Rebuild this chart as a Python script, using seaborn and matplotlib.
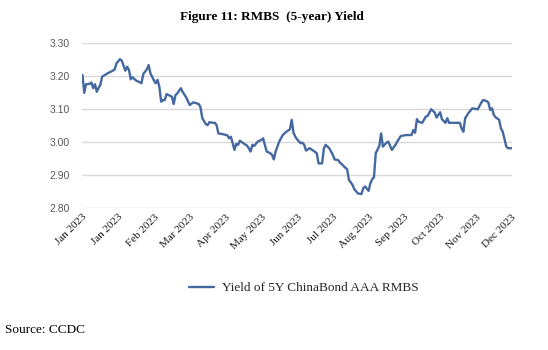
import matplotlib
matplotlib.use("Agg")
import matplotlib.pyplot as plt
from matplotlib.lines import Line2D
import pandas as pd
import seaborn as sns

# Trading-day index within 2023 and the 5Y RMBS yield (%) on that day
day = [0, 1, 2, 4, 5, 6, 7, 8, 9, 10, 11, 14, 17, 18, 19, 21, 22, 24, 25, 26,
       27, 28, 30, 32, 33, 34, 36, 37, 38, 40, 41, 42, 43, 44, 45, 46, 47, 49,
       50, 51, 52, 53, 55, 56, 58, 60, 62, 65, 66, 67, 69, 70, 71, 73, 74, 75,
       76, 79, 81, 82, 83, 85, 86, 87, 88, 90, 92, 93, 94, 95, 96, 98, 100,
       101, 103, 105, 106, 107, 108, 110, 112, 114, 116, 117, 118, 119, 120,
       122, 123, 124, 125, 127, 129, 131, 132, 134, 135, 136, 138, 140, 141,
       143, 144, 145, 146, 148, 149, 151, 152, 154, 156, 157, 158, 160, 161,
       162, 163, 164, 166, 167, 168, 170, 171, 173, 175, 176, 178, 181, 184,
       185, 186, 187, 188, 190, 192, 193, 195, 197, 198, 200, 201, 203, 204,
       205, 208, 211, 212, 213, 214, 216, 218, 221, 223, 224, 226, 227, 228,
       229, 230, 231, 233, 234, 235, 237, 238, 240]
yield_5y = [3.204, 3.150, 3.176, 3.177, 3.181, 3.164, 3.176, 3.153, 3.165,
            3.174, 3.199, 3.209, 3.217, 3.221, 3.239, 3.252, 3.247, 3.217,
            3.229, 3.219, 3.191, 3.197, 3.187, 3.182, 3.179, 3.207, 3.221,
            3.234, 3.209, 3.187, 3.179, 3.189, 3.168, 3.123, 3.128, 3.128,
            3.146, 3.141, 3.138, 3.116, 3.143, 3.148, 3.164, 3.153, 3.136,
            3.113, 3.121, 3.116, 3.106, 3.073, 3.055, 3.052, 3.061, 3.059,
            3.059, 3.052, 3.027, 3.024, 3.021, 3.012, 3.017, 2.977, 2.995,
            2.992, 3.005, 2.997, 2.990, 2.982, 2.972, 2.992, 2.989, 3.002,
            3.007, 3.012, 2.972, 2.967, 2.962, 2.948, 2.972, 3.002, 3.022,
            3.032, 3.039, 3.068, 3.029, 3.017, 3.009, 2.997, 2.999, 2.992,
            2.975, 2.982, 2.975, 2.967, 2.936, 2.936, 2.982, 2.992, 2.982,
            2.962, 2.948, 2.946, 2.938, 2.934, 2.928, 2.918, 2.886, 2.871,
            2.858, 2.845, 2.843, 2.861, 2.866, 2.853, 2.876, 2.888, 2.894,
            2.967, 2.989, 3.027, 2.987, 2.999, 3.002, 2.977, 2.992, 3.002,
            3.019, 3.022, 3.022, 3.037, 3.029, 3.070, 3.062, 3.059, 3.078,
            3.080, 3.100, 3.090, 3.075, 3.091, 3.070, 3.059, 3.073, 3.059,
            3.059, 3.059, 3.042, 3.032, 3.073, 3.090, 3.103, 3.100, 3.120,
            3.128, 3.125, 3.120, 3.098, 3.103, 3.083, 3.076, 3.068, 3.042,
            3.032, 2.987, 2.982, 2.982]

tick_days = [0, 20, 40, 60, 80, 100, 120, 140, 160, 180, 200, 220, 240]
tick_labels = ["Jan 2023", "Jan 2023", "Feb 2023", "Mar 2023", "Apr 2023",
               "May 2023", "Jun 2023", "Jul 2023", "Aug 2023", "Sep 2023",
               "Oct 2023", "Nov 2023", "Dec 2023"]
y_ticks = [2.80, 2.90, 3.00, 3.10, 3.20, 3.30]

series_name = "Yield of 5Y ChinaBond AAA RMBS"
title = "Figure 11: RMBS  (5-year) Yield"
source = "Source: CCDC"

line_color = "#44689f"
grid_color = "#d9d9d9"

sns.set_style("white")
serif = ["Liberation Serif", "DejaVu Serif"]
sans = ["Liberation Sans", "DejaVu Sans"]

df = pd.DataFrame({"day": day, "yield": yield_5y})

fig = plt.figure(figsize=(5.48, 3.50), dpi=100)
ax = fig.add_axes([0.1505, 0.4049, 0.7832, 0.4714])

sns.lineplot(data=df, x="day", y="yield", ax=ax, color=line_color,
             linewidth=1.7, legend=False)

ax.set_xlim(tick_days[0], tick_days[-1])
ax.set_ylim(y_ticks[0], y_ticks[-1])
ax.set_yticks(y_ticks)
ax.set_yticklabels([f"{v:.2f}" for v in y_ticks], family=sans,
                   fontsize=7.5, color="#595959")
ax.set_xticks(tick_days)
ax.set_xticklabels(tick_labels, family=serif, fontsize=8, color="#1a1a1a",
                   rotation=45, ha="right", va="top", rotation_mode="anchor")
ax.tick_params(axis="both", length=0)
ax.tick_params(axis="y", pad=9)
ax.tick_params(axis="x", pad=3)
ax.set_xlabel("")
ax.set_ylabel("")

ax.grid(False)
for v in y_ticks:
    ax.axhline(v, color=grid_color, linewidth=1.0, zorder=0)
for s in ax.spines.values():
    s.set_visible(False)

fig.text(0.497, 0.951, title, family=serif, fontsize=9.5, fontweight="bold",
         ha="center", va="center", color="black")

handle = Line2D([], [], color=line_color, linewidth=1.7)
fig.legend([handle], [series_name], loc="center",
           bbox_to_anchor=(0.555, 0.177), frameon=False,
           prop={"family": serif, "size": 9.5}, handlelength=1.9,
           handletextpad=0.6)

fig.text(0.009, 0.057, source, family=serif, fontsize=9.5, ha="left",
         va="center", color="black")

fig.savefig("out.png", dpi=100, facecolor="white")
